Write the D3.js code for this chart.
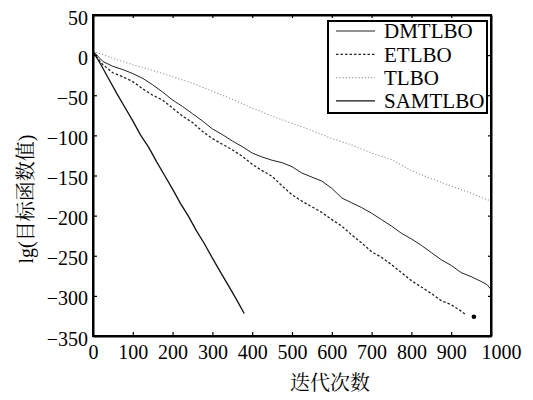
<!DOCTYPE html>
<html>
<head>
<meta charset="utf-8">
<script src="https://cdn.jsdelivr.net/npm/d3@7"></script>
<style>
  body { margin: 0; background: #fff; }
  svg { display: block; }
</style>
</head>
<body>
<div class="chart"></div>
<script>
// curve data (iteration, lg value)
var dmIter = [0, 25, 50, 75, 100, 125, 150, 175, 200, 225, 250, 275, 300, 325, 350, 375, 400, 425, 450, 475, 500, 525, 550, 575, 600, 625, 650, 675, 700, 725, 750, 775, 800, 825, 850, 875, 900, 925, 950, 975, 990, 1000];
var dmVal = [5, -8, -14, -18, -23, -29, -37, -46, -56, -64, -73, -82, -92, -99, -107, -114, -122, -127, -131, -134, -139, -147, -152, -157, -166, -178, -184, -190, -197, -205, -213, -222, -229, -237, -246, -255, -262, -271, -276, -282, -286, -292];

var etIter = [0, 25, 50, 75, 100, 125, 150, 175, 200, 225, 250, 275, 300, 325, 350, 375, 400, 425, 450, 475, 500, 525, 550, 575, 600, 625, 650, 675, 700, 725, 750, 775, 800, 825, 850, 875, 900, 925, 938];
var etVal = [3, -12, -22, -27, -33, -42, -50, -56, -66, -76, -84, -95, -104, -111, -118, -126, -136, -144, -151, -163, -174, -182, -189, -196, -205, -213, -224, -234, -245, -252, -261, -271, -281, -289, -297, -306, -311, -319, -324];
var etDot = [957, -326];

var tlIter = [0, 50, 100, 150, 200, 250, 300, 350, 400, 450, 500, 550, 600, 650, 700, 750, 800, 850, 900, 950, 1000];
var tlVal = [5, -4, -12, -19, -27, -35, -45, -55, -66, -76, -85, -94, -104, -112, -122, -130, -144, -154, -163, -172, -182];

var saIter = [0, 20, 40, 60, 80, 100, 120, 140, 160, 180, 200, 220, 240, 260, 280, 300, 320, 340, 360, 380];
var saVal = [5, -12, -30, -48, -65, -82, -100, -115, -133, -150, -167, -185, -201, -219, -235, -253, -270, -287, -304, -322];

var xTicks = [0, 100, 200, 300, 400, 500, 600, 700, 800, 900, 1000];
var yTicks = [50, 0, -50, -100, -150, -200, -250, -300, -350];
var seriesNames = ["DMTLBO", "ETLBO", "TLBO", "SAMTLBO"];

var svgWidth = 533;
var svgHeight = 400;
var margin = { top: 15, right: 42, bottom: 64, left: 93 };
var width = svgWidth - margin.left - margin.right;
var height = svgHeight - margin.top - margin.bottom;

var svg = d3.select(".chart").append("svg")
  .attr("width", svgWidth)
  .attr("height", svgHeight);

var chartGroup = svg.append("g")
  .attr("transform", `translate(${margin.left}, ${margin.top})`);

var xLinearScale = d3.scaleLinear().domain([0, 1000]).range([0, width]);
var yLinearScale = d3.scaleLinear().domain([-350, 50]).range([height, 0]);

var numFont = "'Liberation Serif', 'Times New Roman', serif";
var cjkFont = "'Noto Serif CJK SC', 'Noto Sans CJK SC', serif";

// styles per series
var styles = {
  DMTLBO: { color: "#222", width: 1, dash: null },
  ETLBO: { color: "#222", width: 1.3, dash: "2.5,2" },
  TLBO: { color: "#999", width: 1.1, dash: "1.2,2" },
  SAMTLBO: { color: "#111", width: 1.3, dash: null }
};

function zipSeries(xs, ys) {
  return xs.map((x, i) => ({ x: x, y: ys[i] }));
}
var series = [
  { name: "DMTLBO", pts: zipSeries(dmIter, dmVal) },
  { name: "ETLBO", pts: zipSeries(etIter, etVal) },
  { name: "TLBO", pts: zipSeries(tlIter, tlVal) },
  { name: "SAMTLBO", pts: zipSeries(saIter, saVal) }
];

var line = d3.line()
  .x(d => xLinearScale(d.x))
  .y(d => yLinearScale(d.y));

chartGroup.selectAll(".curve")
  .data(series)
  .enter()
  .append("path")
  .attr("class", "curve")
  .attr("d", d => line(d.pts))
  .attr("fill", "none")
  .attr("stroke", d => styles[d.name].color)
  .attr("stroke-width", d => styles[d.name].width)
  .attr("stroke-dasharray", d => styles[d.name].dash);

// ETLBO end dot
chartGroup.append("circle")
  .attr("cx", xLinearScale(etDot[0]))
  .attr("cy", yLinearScale(etDot[1]))
  .attr("r", 2.3)
  .attr("fill", "#000");

// axes, ticks pointing inward
var bottomAxis = d3.axisBottom(xLinearScale).tickValues(xTicks).tickFormat(d3.format("d")).tickSizeInner(-4).tickSizeOuter(0).tickPadding(7);
var leftAxis = d3.axisLeft(yLinearScale).tickValues(yTicks).tickFormat(d3.format("d")).tickSizeInner(-4).tickSizeOuter(0).tickPadding(5);
var topAxis = d3.axisTop(xLinearScale).tickValues(xTicks).tickSizeInner(-3).tickSizeOuter(0).tickFormat("");
var rightAxis = d3.axisRight(yLinearScale).tickValues(yTicks).tickSizeInner(-3).tickSizeOuter(0).tickFormat("");

var xAxis = chartGroup.append("g")
  .attr("transform", `translate(0, ${height})`)
  .call(bottomAxis);
var yAxis = chartGroup.append("g").call(leftAxis);
chartGroup.append("g").call(topAxis);
chartGroup.append("g").attr("transform", `translate(${width}, 0)`).call(rightAxis);

chartGroup.selectAll(".domain").attr("stroke", "#000").attr("stroke-width", 2);
chartGroup.selectAll(".tick line").attr("stroke", "#000").attr("stroke-width", 1.2);
chartGroup.selectAll(".tick text")
  .attr("font-family", numFont)
  .attr("font-size", "20px")
  .attr("fill", "#000");
yAxis.selectAll(".tick text").attr("dy", "0.45em");
xAxis.selectAll(".tick text").attr("dy", "0.8em");
xAxis.selectAll(".tick text").filter(d => d === 1000).attr("dx", "10");

// frame
chartGroup.append("rect")
  .attr("width", width)
  .attr("height", height)
  .attr("fill", "none")
  .attr("stroke", "#000")
  .attr("stroke-width", 2);

// axis titles
svg.append("text")
  .attr("x", 330)
  .attr("y", 390)
  .attr("text-anchor", "middle")
  .attr("font-family", cjkFont)
  .attr("font-size", "20px")
  .text("迭代次数");

svg.append("text")
  .attr("transform", "translate(33, 199) rotate(-90)")
  .attr("text-anchor", "middle")
  .attr("font-size", "20px")
  .attr("font-family", cjkFont)
  .html(`<tspan font-family="${numFont}">lg(</tspan>目标函数值<tspan font-family="${numFont}">)</tspan>`);

// legend
var legend = svg.append("g").attr("transform", "translate(328, 21)");
legend.append("rect")
  .attr("width", 159)
  .attr("height", 92)
  .attr("fill", "#fff")
  .attr("stroke", "#000")
  .attr("stroke-width", 2);

var legendItems = legend.selectAll(".item")
  .data(seriesNames)
  .enter()
  .append("g")
  .attr("class", "item")
  .attr("transform", (d, i) => `translate(0, ${10 + i * 23.3})`);

legendItems.append("line")
  .attr("x1", 8).attr("x2", 47)
  .attr("y1", 0).attr("y2", 0)
  .attr("stroke", d => styles[d].color)
  .attr("stroke-width", d => styles[d].width)
  .attr("stroke-dasharray", d => styles[d].dash);

legendItems.append("text")
  .attr("x", 56)
  .attr("y", 0)
  .attr("dy", "0.35em")
  .attr("font-family", numFont)
  .attr("font-size", "21px")
  .text(d => d);
</script>
</body>
</html>
